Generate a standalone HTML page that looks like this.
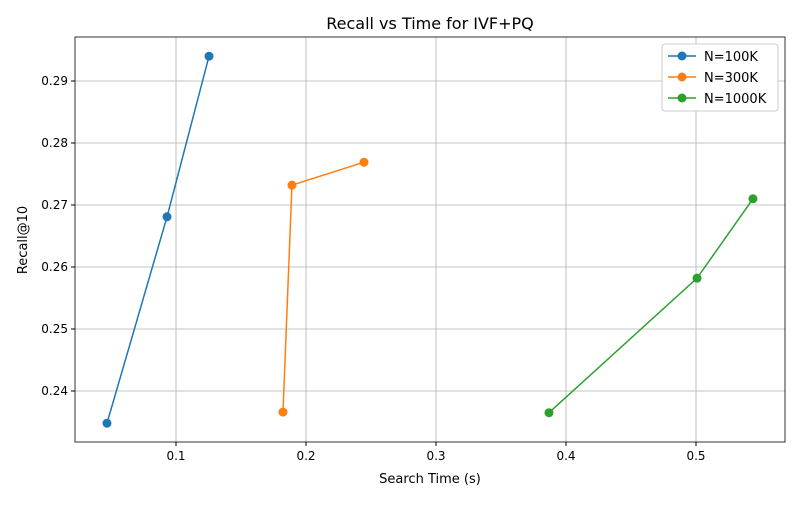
<!DOCTYPE html>
<html><head><meta charset="utf-8"><style>
body{margin:0;background:#fff;font-family:"Liberation Sans","DejaVu Sans",sans-serif}
</style></head><body>
<svg id="chart" width="800" height="500" xmlns="http://www.w3.org/2000/svg" font-family="DejaVu Sans, Liberation Sans, sans-serif">
<rect width="800" height="500" fill="#fff"/>
<text x="430" y="29" text-anchor="middle" font-size="16">Recall vs Time for IVF+PQ</text>
<text x="430" y="483" text-anchor="middle" font-size="13">Search Time (s)</text>
<text transform="translate(27,240) rotate(-90)" text-anchor="middle" font-size="13">Recall@10</text>
<g id="grid"></g><g id="series"></g><g id="axes"></g><g id="legend"></g>
</svg>
<script>
const xTicks=[0.1,0.2,0.3,0.4,0.5];
const yTicks=[0.24,0.25,0.26,0.27,0.28,0.29];
const seriesNames=["N=100K","N=300K","N=1000K"];
const colors=["#1f77b4","#ff7f0e","#2ca02c"];
const times100=[0.0469,0.0931,0.1254];
const recall100=[0.2348,0.2681,0.2940];
const times300=[0.1823,0.1892,0.2446];
const recall300=[0.2366,0.2732,0.2769];
const times1000=[0.3869,0.5008,0.5438];
const recall1000=[0.2365,0.2582,0.2710];
const L=75,R=785,T=37,B=442;
const xs=v=>46+v*1300;
const ys=v=>391-(v-0.24)*6200;
const NS="http://www.w3.org/2000/svg";
function mk(tag,attrs,parent){const e=document.createElementNS(NS,tag);for(const k in attrs)e.setAttribute(k,attrs[k]);parent.appendChild(e);return e;}
const grid=document.getElementById('grid'),axes=document.getElementById('axes'),ser=document.getElementById('series'),leg=document.getElementById('legend');
xTicks.forEach(t=>{const x=xs(t);
 const g=mk('line',{x1:x,x2:x,y1:T,y2:B,stroke:'#b0b0b0','stroke-width':0.8},grid);
 
 mk('line',{x1:x,x2:x,y1:B,y2:B+4,stroke:'#000'},axes);
 const tx=mk('text',{x:x,y:B+18,'text-anchor':'middle','font-size':12},axes);tx.textContent=t;
 });
yTicks.forEach(t=>{const y=ys(t);
 const g=mk('line',{x1:L,x2:R,y1:y,y2:y,stroke:'#b0b0b0','stroke-width':0.8},grid);
 
 mk('line',{x1:L-4,x2:L,y1:y,y2:y,stroke:'#000'},axes);
 const tx=mk('text',{x:L-7,y:y+4,'text-anchor':'end','font-size':12},axes);tx.textContent=t.toFixed(2);
 });
const fr=mk('rect',{x:L,y:T,width:R-L,height:B-T,fill:'none',stroke:'#000','stroke-width':0.8},axes);

const data=[[times100,recall100],[times300,recall300],[times1000,recall1000]];
data.forEach((d,i)=>{
 const pts=d[0].map((t,j)=>xs(t)+','+ys(d[1][j])).join(' ');
 const pl=mk('polyline',{points:pts,fill:'none',stroke:colors[i],'stroke-width':1.5},ser);
 
 d[0].forEach((t,j)=>{const c=mk('circle',{cx:xs(t),cy:ys(d[1][j]),r:4.5,fill:colors[i]},ser);
  });
});
const lb=mk('rect',{x:662,y:44,width:116,height:67,fill:'#fff',stroke:'#ccc',rx:3},leg);

seriesNames.forEach((n,i)=>{const y=56+i*21;
 const g=mk('g',{},leg);
 mk('line',{x1:668,x2:696,y1:y,y2:y,stroke:colors[i],'stroke-width':1.5},g);
 mk('circle',{cx:682,cy:y,r:4.5,fill:colors[i]},g);
 const t=mk('text',{x:704,y:y+5,'font-size':13},g);t.textContent=n;});
</script>
</body></html>
